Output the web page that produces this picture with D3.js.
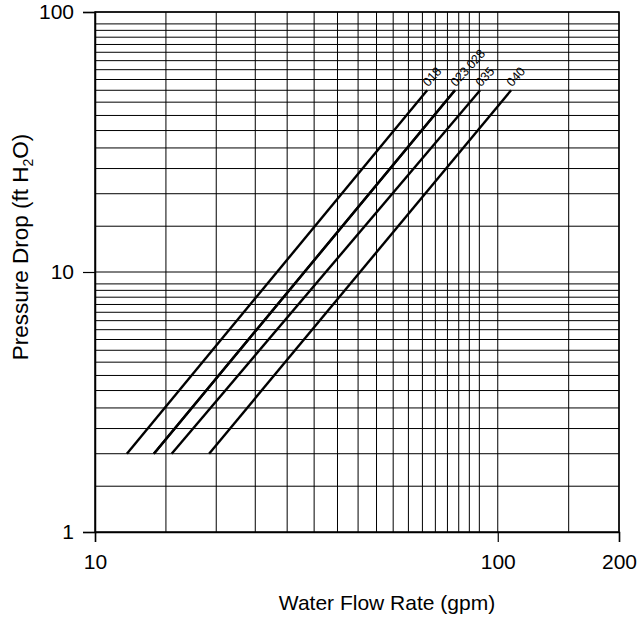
<!DOCTYPE html>
<html lang="en">
<head>
  <meta charset="UTF-8">
  <title>Pressure Drop</title>
  <style>
    html, body {
      margin: 0;
      overflow: hidden;
      width: 100%;
      height: 100%;
      background: #fff;
    }
    svg {
      position: absolute;
      top: 0;
      left: 0;
      background: #fff;
      font-family: "Liberation Sans", Arial, sans-serif;
    }
  </style>
</head>
<body>
  <svg width="644" height="619"></svg>
</body>
<script src="https://d3js.org/d3.v7.min.js"></script>
<script type="text/javascript">
  // coil sizes and their two end points (gpm at 2 and at 50 ft H2O)
  const sizes = ['018', '023', '028', '035', '040']
  const pressure = [2, 50]
  const flow018 = [12.0, 66.8]
  const flow023 = [14.0, 78.3]
  const flow028 = [14.0, 78.3]
  const flow035 = [15.5, 90.4]
  const flow040 = [19.2, 107.9]
  const flows = [flow018, flow023, flow028, flow035, flow040]

  const xTicks = [10, 100, 200]
  const yTicks = [1, 10, 100]
  const xGrid = [15, 20, 25, 30, 35, 40, 45, 50, 55, 60, 65, 70, 75, 80, 85, 90, 100, 150, 200]
  const yGrid = [1.5, 2, 2.5, 3, 3.5, 4, 4.5, 5, 5.5, 6, 6.5, 7, 7.5, 8, 8.5, 9, 10,
                 15, 20, 25, 30, 35, 40, 45, 50, 55, 60, 65, 70, 75, 80, 85, 90, 100]

  const svg = d3.select('svg')
  const pL = 95, pR = 619, pT = 12, pB = 532

  const x = d3.scaleLog().domain([10, 200]).range([pL, pR])
  const y = d3.scaleLog().domain([1, 100]).range([pB, pT])

  // grid
  const grid = svg.append('g')
  grid.selectAll('line.v')
    .data(xGrid)
    .enter().append('line')
      .attr('class', 'v')
      .attr('x1', d => x(d)).attr('x2', d => x(d))
      .attr('y1', pT).attr('y2', pB)
      .attr('stroke', '#000')
      .attr('stroke-width', 1)

  grid.selectAll('line.h')
    .data(yGrid)
    .enter().append('line')
      .attr('class', 'h')
      .attr('x1', pL).attr('x2', pR)
      .attr('y1', d => y(d)).attr('y2', d => y(d))
      .attr('stroke', '#000')
      .attr('stroke-width', 1)

  // axes
  const xAxis = svg.append('g')
    .attr('transform', `translate(0,${pB})`)
    .call(d3.axisBottom(x).tickValues(xTicks).tickFormat(d3.format('d'))
      .tickSize(10).tickPadding(12))
  const yAxis = svg.append('g')
    .attr('transform', `translate(${pL},0)`)
    .call(d3.axisLeft(y).tickValues(yTicks).tickFormat(d3.format('d'))
      .tickSize(12).tickPadding(9))

  for (const ax of [xAxis, yAxis]) {
    ax.select('.domain').attr('stroke', '#000').attr('stroke-width', 1.5)
    ax.selectAll('.tick line').attr('stroke', '#000').attr('stroke-width', 1.2)
    ax.selectAll('.tick text')
      .attr('fill', '#000')
      .style('font-size', '21px')
      .style('font-family', '"Liberation Sans", Arial, sans-serif')
  }

  // curves
  const line = d3.line()
    .x(d => x(d[0]))
    .y(d => y(d[1]))

  const curves = sizes.map((s, i) => ({
    name: s,
    pts: flows[i].map((f, j) => [f, pressure[j]])
  }))

  svg.append('g')
    .selectAll('path')
    .data(curves)
    .enter().append('path')
      .attr('d', d => line(d.pts))
      .attr('fill', 'none')
      .attr('stroke', '#000')
      .attr('stroke-width', 2.4)

  // labels at the end of each curve; stack labels that share an end point
  const angle = -48
  const fs = 12.5
  const rad = angle * Math.PI / 180
  let prevEnd = null, shift = 0
  curves.forEach(c => {
    const end = c.pts[c.pts.length - 1]
    const key = end.join(',')
    shift = (key === prevEnd) ? shift + c.name.length * 0.556 * fs + 3 : 0
    prevEnd = key
    const px = x(end[0]) + 1 + shift * Math.cos(rad)
    const py = y(end[1]) - 3 + shift * Math.sin(rad)
    svg.append('text')
      .attr('transform', `translate(${px},${py}) rotate(${angle})`)
      .style('font-size', fs + 'px')
      .text(c.name)
  })

  // border
  svg.append('rect')
    .attr('x', pL).attr('y', pT)
    .attr('width', pR - pL).attr('height', pB - pT)
    .attr('fill', 'none')
    .attr('stroke', '#000')
    .attr('stroke-width', 1.5)

  // titles
  svg.append('text')
    .attr('x', 387).attr('y', 610)
    .attr('text-anchor', 'middle')
    .style('font-size', '21px')
    .text('Water Flow Rate (gpm)')

  const yt = svg.append('text')
    .attr('transform', 'translate(28,247) rotate(-90)')
    .attr('text-anchor', 'middle')
    .style('font-size', '22.5px')
  yt.append('tspan').text('Pressure Drop (ft H')
  yt.append('tspan').attr('dy', 5).style('font-size', '14px').text('2')
  yt.append('tspan').attr('dy', -5).text('O)')
</script>
</html>
